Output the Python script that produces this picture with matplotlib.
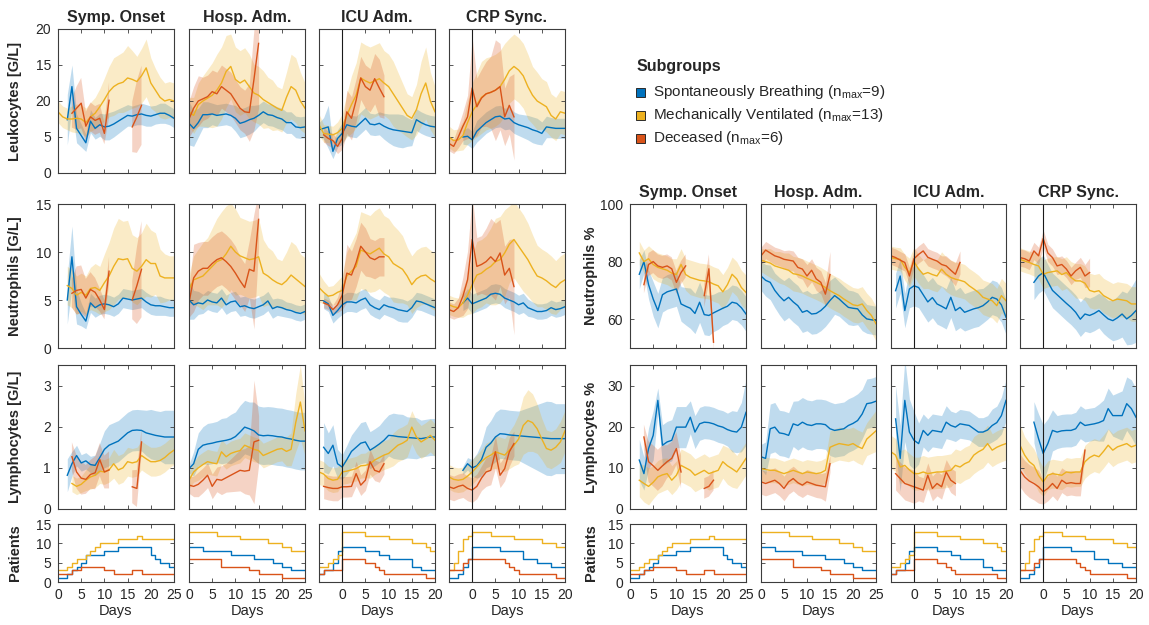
import numpy as np
import matplotlib
matplotlib.use('Agg')
import matplotlib.pyplot as plt
from matplotlib.patches import Rectangle

nan = float('nan')

ALIGNMENTS = ['Symp. Onset', 'Hosp. Adm.', 'ICU Adm.', 'CRP Sync.']
GROUPS = ['Spontaneously Breathing', 'Mechanically Ventilated', 'Deceased']
N_MAX = [9, 13, 6]
X_RANGES = [(0, 25), (0, 25), (-5, 20), (-5, 20)]
COLORS = ['#0072BD', '#EDB120', '#D95319']

# each series: (first day, mean values per day, half width of band per day)
# ---------------- Leukocytes [G/L] ----------------
leu_on_sb = (2, [7.4,12.0,6.2,5.2,4.2,7.2,6.2,6.7,6.4,6.5,6.8,7.2,7.6,8.0,7.9,8.1,8.2,8.0,7.9,8.1,8.3,8.3,8.0,7.6],
             [3.5,3.0,2.0,1.6,1.2,1.6,1.5,1.6,1.8,1.9,1.8,1.7,1.6,1.5,1.4,1.4,1.5,1.5,1.4,1.3,1.4,1.4,1.3,1.3])
leu_on_mv = (0, [8.5,7.8,7.5,7.5,7.6,7.5,7.0,7.8,8.3,9.2,10.2,11.3,12.0,12.4,12.6,13.2,13.0,12.7,13.5,14.6,12.5,11.5,10.5,10.0,10.2,10.0],
             [1.5,1.5,1.5,1.8,2.0,2.0,2.0,2.0,2.2,2.5,3.0,3.5,4.0,4.0,4.2,4.5,4.0,3.5,3.8,4.0,3.5,3.0,2.8,2.5,2.5,2.5])
leu_on_d = (3, [8.3,9.0,9.7,6.5,7.8,7.3,7.6,5.5,10.1,nan,nan,nan,nan,6.4,7.8,9.4],
            [2.0,3.0,3.5,2.0,2.0,2.0,2.0,1.5,2.5,nan,nan,nan,nan,3.5,5.0,5.5])
leu_ho_sb = (0, [6.9,6.2,7.0,8.1,8.1,8.2,8.0,8.1,8.2,8.0,7.6,6.9,7.1,7.4,7.6,8.0,8.5,8.1,8.0,7.7,7.5,7.0,7.0,6.4,6.3,6.4],
             [3.0,2.5,2.0,1.8,1.8,1.5,1.5,1.5,1.5,1.5,1.8,2.0,2.0,2.0,1.8,1.5,1.5,1.5,1.5,1.5,1.5,1.5,1.5,1.5,1.5,1.5])
leu_ho_mv = (0, [8.5,8.0,9.5,10.0,10.4,10.8,11.5,12.5,14.1,14.8,13.0,12.5,12.9,12.0,11.1,10.8,10.2,9.8,9.4,9.0,8.7,10.5,12.0,11.5,10.0,9.0],
             [2.0,2.5,3.0,3.5,4.0,4.5,5.0,5.0,5.0,4.5,4.5,4.5,4.5,4.5,4.0,4.0,4.0,3.5,3.5,3.0,3.0,3.5,4.5,4.5,4.0,3.5])
leu_ho_d = (0, [7.5,9.0,10.0,10.3,10.6,11.3,11.0,12.0,11.5,11.0,10.0,9.0,8.5,8.4,13.0,18.0],
            [2.5,3.0,3.5,3.0,3.0,3.0,3.0,3.0,3.0,3.0,3.0,3.0,3.0,4.0,7.0,9.0])
leu_ic_sb = (-5, [6.0,6.2,6.4,3.0,4.8,5.5,6.7,6.5,6.4,7.0,7.6,6.8,6.7,6.9,6.5,6.2,6.0,5.9,5.8,5.7,5.6,7.4,7.0,6.7,6.5,6.4],
             [1.0,1.5,3.0,1.0,1.2,1.5,1.5,1.5,1.5,1.5,1.5,1.5,1.5,1.6,1.8,2.0,2.2,2.3,2.3,2.0,1.8,1.5,1.5,1.5,1.5,1.5])
leu_ic_mv = (-5, [6.7,5.5,5.4,5.3,5.6,6.2,8.0,9.5,10.8,13.2,12.8,12.5,12.8,13.1,12.5,12.0,11.0,10.0,9.0,8.0,7.6,8.8,11.0,12.5,10.0,8.5],
             [1.5,1.2,1.2,1.2,1.5,2.0,3.0,4.0,4.5,5.0,5.0,5.0,5.0,5.0,4.5,4.5,4.5,4.0,3.5,3.0,3.0,3.5,4.5,5.0,4.0,3.5])
leu_ic_d = (-4, [5.3,4.8,4.5,3.7,4.8,8.5,7.6,10.1,13.2,12.0,11.5,13.1,11.8,10.6],
            [1.0,1.0,1.0,1.0,1.5,3.0,3.0,3.0,3.0,3.0,3.0,3.5,4.0,3.0])
leu_cr_sb = (-2, [5.0,5.1,4.6,5.8,6.4,7.0,7.4,7.8,7.9,7.5,7.6,7.0,6.7,6.5,6.3,6.0,5.8,5.5,6.4,6.3,6.2,6.2,6.2],
             [1.0,1.2,1.2,1.5,1.5,1.5,1.5,1.5,1.5,1.5,1.5,1.5,1.5,1.6,1.7,1.8,1.8,1.6,1.5,1.4,1.4,1.4,1.4])
leu_cr_mv = (-5, [5.0,4.5,4.6,5.2,7.0,8.5,9.5,10.5,11.0,11.2,11.5,12.0,13.0,14.2,14.8,14.3,13.5,12.0,10.8,10.0,9.6,9.2,8.0,7.5,8.5,8.3],
             [1.5,1.5,1.5,2.0,3.0,4.0,4.5,5.0,5.0,5.0,5.0,5.0,5.0,4.5,4.5,4.5,4.5,4.5,4.0,4.0,3.5,3.5,3.0,3.0,3.0,3.0])
leu_cr_d = (-5, [4.1,3.7,5.0,6.5,7.8,11.8,9.2,10.4,11.0,11.2,11.5,12.0,7.8,9.4,7.8],
            [1.0,1.0,1.5,2.0,3.0,7.0,4.0,4.0,4.5,5.0,7.0,6.0,4.0,4.0,6.0])

# ---------------- Neutrophils [G/L] ----------------
neu_on_sb = (2, [5.0,9.5,4.3,3.5,2.8,4.7,4.2,4.5,4.6,4.5,4.3,4.6,5.2,5.1,5.0,5.1,5.2,4.8,4.5,4.4,4.4,4.3,4.2,4.2],
             [2.5,3.2,1.8,1.2,0.8,1.0,1.0,1.0,1.0,1.0,1.0,1.0,1.0,1.0,1.0,1.0,1.0,1.0,1.0,1.0,1.0,0.9,0.9,0.9])
neu_on_mv = (2, [6.5,6.2,5.5,5.8,5.5,6.2,6.3,6.0,6.8,7.5,8.5,9.3,9.2,9.3,8.3,8.0,8.5,9.2,8.8,8.8,7.5,7.3,7.3,7.3],
             [2.0,2.0,2.0,2.0,2.0,2.2,2.5,2.5,3.0,3.5,4.0,4.2,4.0,4.0,3.5,3.5,3.5,3.8,3.5,3.2,2.8,2.5,2.3,2.3])
neu_on_d = (3, [5.7,6.0,6.1,5.2,6.1,5.8,5.0,4.0,8.0,nan,nan,nan,nan,5.0,6.5,8.2],
            [1.5,2.5,2.5,2.0,1.8,1.5,1.2,1.0,1.5,nan,nan,nan,nan,2.0,4.0,5.0])
neu_ho_sb = (0, [5.0,4.5,4.7,4.6,5.0,4.8,4.7,5.2,4.5,4.8,4.9,4.3,4.4,4.2,4.1,4.3,4.5,4.9,4.1,4.3,4.2,4.0,3.9,3.7,3.6,3.8],
             [2.0,1.5,1.2,1.0,1.0,1.0,1.0,1.0,1.0,1.0,1.0,1.0,1.0,1.0,1.0,1.0,1.0,1.0,1.0,0.9,0.9,0.8,0.8,0.8,0.8,0.8])
neu_ho_mv = (0, [6.1,7.1,7.3,7.5,8.0,8.5,9.0,9.2,9.8,10.6,10.0,9.6,9.4,9.2,9.3,9.5,7.8,7.5,7.1,6.8,6.6,7.0,7.6,7.2,6.8,6.4],
             [1.5,2.5,3.0,3.5,3.5,4.0,4.5,5.0,5.0,4.5,4.5,4.0,4.0,4.0,4.0,4.0,3.5,3.0,3.0,2.5,2.5,3.0,3.5,3.5,3.0,3.0])
neu_ho_d = (0, [4.7,7.3,8.0,8.3,8.3,8.8,9.2,9.4,9.0,8.5,7.8,7.0,6.3,8.2,8.0,13.4],
            [1.5,3.5,3.0,2.8,2.8,2.8,2.8,2.8,2.8,2.8,2.8,2.5,2.5,3.0,6.0,3.0])
neu_ic_sb = (-4, [4.9,4.6,3.4,3.9,4.5,4.8,4.8,4.7,5.0,5.2,4.5,4.2,4.0,4.5,4.3,4.2,4.0,3.9,3.8,4.2,4.9,4.8,4.6,4.4,4.2],
             [0.8,0.8,0.8,0.8,1.0,1.0,1.0,1.0,1.0,1.0,1.0,1.0,1.0,1.0,1.0,1.1,1.2,1.2,1.1,1.0,0.9,0.9,0.9,0.9,0.9])
neu_ic_mv = (-5, [6.3,5.8,5.4,5.5,5.8,6.0,7.5,8.0,8.5,10.2,10.0,9.8,10.1,10.4,9.8,9.5,8.8,8.5,8.2,7.5,6.6,7.2,7.5,7.6,7.2,6.9],
             [1.5,1.2,1.0,1.0,1.2,1.5,2.5,3.0,3.5,4.0,4.0,4.0,4.2,4.2,4.0,4.0,4.0,3.8,3.5,3.0,3.0,3.0,3.0,3.0,3.0,3.0])
neu_ic_d = (-4, [4.7,4.5,4.0,4.5,5.5,7.8,7.6,8.9,10.6,10.0,9.4,9.2,9.5,9.5],
            [0.5,0.5,0.5,0.8,1.5,3.0,2.5,2.5,2.5,2.5,2.0,2.0,2.0,2.0])
neu_cr_sb = (-2, [4.7,5.2,4.6,4.8,5.0,5.2,5.6,5.7,5.6,5.2,5.0,4.8,4.5,4.7,4.2,4.0,3.8,3.8,3.9,4.2,4.0,4.1,4.3],
             [0.8,1.0,1.0,1.0,1.0,1.0,1.0,1.0,1.0,1.0,1.0,1.0,1.0,1.0,0.9,0.8,0.8,0.8,0.8,0.8,0.8,0.8,0.8])
neu_cr_mv = (-5, [4.5,4.3,4.2,4.7,5.5,6.6,7.6,7.8,8.2,8.5,9.0,9.2,9.9,10.8,11.3,10.6,9.9,9.2,8.3,7.5,7.3,7.0,6.6,6.3,6.8,7.1],
             [1.0,1.0,1.0,1.5,2.0,3.0,3.5,3.5,3.5,4.0,4.5,4.5,4.5,4.0,4.0,4.0,4.0,3.8,3.5,3.2,3.0,3.0,3.0,2.8,2.8,2.8])
neu_cr_d = (-5, [4.0,3.8,4.2,5.4,7.1,11.3,8.5,8.7,9.0,9.5,9.0,9.9,7.6,8.3,6.4],
            [0.8,0.8,1.0,2.0,3.0,4.5,3.0,3.0,3.5,4.0,4.0,3.5,3.0,3.0,5.0])

# ---------------- Lymphocytes [G/L] ----------------
lym_on_sb = (2, [0.82,1.1,1.3,1.12,1.17,1.08,1.06,1.25,1.45,1.55,1.6,1.65,1.75,1.85,1.91,1.92,1.91,1.85,1.82,1.79,1.77,1.75,1.75,1.75],
             [0.4,0.3,0.25,0.2,0.2,0.2,0.25,0.35,0.45,0.5,0.5,0.5,0.5,0.5,0.5,0.5,0.5,0.55,0.6,0.6,0.6,0.65,0.65,0.65])
lym_on_mv = (3, [0.62,0.55,0.6,0.7,0.78,0.82,0.92,0.9,0.95,1.1,0.95,1.0,1.15,1.12,1.15,1.3,1.22,1.15,1.15,1.18,1.25,1.35,1.43],
             [0.2,0.2,0.2,0.25,0.3,0.3,0.3,0.3,0.3,0.35,0.35,0.35,0.35,0.35,0.35,0.35,0.35,0.35,0.35,0.35,0.35,0.35,0.35])
lym_on_d = (3, [1.27,0.9,0.75,0.72,0.84,0.88,1.2,0.9,0.95,nan,nan,nan,nan,0.54,0.5,1.63],
            [0.35,0.4,0.4,0.35,0.35,0.4,0.4,0.4,0.45,nan,nan,nan,nan,0.4,0.45,0.3])
lym_ho_sb = (0, [0.98,1.1,1.45,1.55,1.58,1.6,1.63,1.65,1.67,1.7,1.76,1.87,1.99,1.95,1.9,1.8,1.78,1.79,1.78,1.76,1.75,1.72,1.7,1.67,1.65,1.65],
             [0.1,0.3,0.4,0.45,0.5,0.5,0.5,0.55,0.55,0.6,0.6,0.65,0.65,0.65,0.7,0.7,0.7,0.7,0.7,0.7,0.7,0.7,0.7,0.7,0.7,0.7])
lym_ho_mv = (0, [0.7,0.9,1.0,1.08,1.15,1.12,1.1,1.39,1.27,1.35,1.39,1.42,1.55,1.5,1.45,1.42,1.3,1.35,1.4,1.45,1.47,1.4,1.45,2.1,2.6,1.9],
             [0.2,0.25,0.3,0.3,0.3,0.3,0.3,0.3,0.3,0.3,0.3,0.3,0.3,0.3,0.3,0.3,0.3,0.3,0.3,0.3,0.3,0.35,0.4,0.7,0.9,0.6])
lym_ho_d = (0, [0.58,0.55,0.6,0.7,0.82,0.55,0.72,0.7,0.76,0.82,0.88,0.94,0.92,0.94,1.63,1.67],
            [0.2,0.25,0.3,0.3,0.3,0.3,0.3,0.35,0.35,0.4,0.45,0.5,0.55,0.6,1.5,0.6])
lym_ic_sb = (-4, [1.5,1.35,1.55,1.1,1.02,1.2,1.4,1.5,1.6,1.63,1.43,1.5,1.58,1.67,1.79,1.78,1.76,1.75,1.74,1.73,1.72,1.71,1.73,1.75,1.75],
             [0.6,0.5,0.5,0.35,0.3,0.35,0.4,0.45,0.5,0.5,0.45,0.45,0.45,0.5,0.5,0.55,0.55,0.55,0.5,0.5,0.5,0.45,0.45,0.45,0.45])
lym_ic_mv = (-5, [0.9,0.85,0.74,0.7,0.72,0.9,0.92,0.95,0.98,1.05,1.06,1.1,1.19,1.25,1.31,1.35,1.45,1.55,1.6,1.67,1.99,1.75,1.63,1.7,1.79,1.67],
             [0.3,0.3,0.3,0.3,0.3,0.3,0.3,0.3,0.3,0.3,0.3,0.35,0.35,0.35,0.35,0.35,0.4,0.4,0.4,0.4,0.4,0.4,0.4,0.4,0.4,0.4])
lym_ic_d = (-4, [0.55,0.52,0.5,0.5,0.54,0.54,0.55,0.86,0.58,0.7,1.15,0.94,0.9,1.1],
            [0.3,0.3,0.3,0.3,0.25,0.25,0.25,0.3,0.25,0.25,0.3,0.25,0.25,0.25])
lym_cr_sb = (-2, [0.94,1.1,1.0,1.05,1.2,1.5,1.6,1.75,1.83,1.82,1.8,1.79,1.78,1.77,1.76,1.75,1.74,1.73,1.72,1.71,1.71,1.71,1.71],
             [0.1,0.15,0.2,0.3,0.4,0.5,0.55,0.6,0.6,0.6,0.6,0.6,0.6,0.65,0.7,0.75,0.8,0.85,0.9,0.9,0.85,0.85,0.85])
lym_cr_mv = (-5, [0.78,0.72,0.7,0.72,0.8,0.9,1.02,1.15,1.25,1.31,1.39,1.35,1.31,1.43,1.55,1.7,2.03,2.15,2.1,1.95,1.7,1.47,1.43,1.5,1.63,1.9],
             [0.3,0.3,0.3,0.3,0.3,0.3,0.3,0.3,0.35,0.35,0.4,0.4,0.4,0.45,0.5,0.6,0.7,0.75,0.7,0.6,0.5,0.45,0.45,0.45,0.5,0.5])
lym_cr_d = (-5, [0.54,0.5,0.55,0.58,0.5,0.46,0.55,0.75,0.9,0.94,1.39,0.82,0.98,1.39,1.59],
            [0.3,0.3,0.3,0.3,0.3,0.3,0.3,0.3,0.35,0.35,0.4,0.3,0.3,0.35,0.3])

# ---------------- Neutrophils % ----------------
nep_on_sb = (2, [75.6,80.0,72.0,67.0,63.0,68.5,69.5,70.0,70.5,65.3,64.5,63.8,62.0,65.9,61.6,61.3,62.2,63.0,63.8,64.5,65.9,65.5,64.0,61.8],
             [5,4,5,6,6,6,6,6,6,6,6.5,7,7,7,7,7,6.5,6.5,6,6,6,6,6,6])
nep_on_mv = (2, [83,80,81,79,78,77.5,77,76,75.5,79,75.5,74.5,74,73.5,73.3,73,72.2,71.6,69.5,72,75.6,74,71,69.3],
             [4,4,4.5,5,5,5,5,5,5.5,5.5,5.5,6,6,6,6,6,6,6,6,6,6,6,6,6])
nep_on_d = (3, [72,79,80,78.5,78,78.5,77.5,72.8,76.2,78.5,nan,nan,nan,68.2,77.5,52],
            [3,4,4,4,4,4,4,4,4,4,nan,nan,nan,4,5,3])
nep_ho_sb = (0, [75,73.5,72.8,70,68,66.4,67.6,66,64.7,62.4,63,61.8,62,63,64.5,66.5,68.2,67,65.5,64.1,63.8,63.6,61.5,60.1,59.8,59.5],
             [5,5.5,6,6,6.5,7,7,7,7,7,7,7,7,7,7,7,6.5,6,6,6,6,5.5,5.5,5,5,5])
nep_ho_mv = (0, [80.5,80,79.5,78.5,78,77.5,77,75.8,75.5,75,74.2,73.5,72.8,72,71,69.9,69,68.2,67,66,65,64.7,65.3,63,61.3,58.4],
             [4,4.5,5,5,5.5,5.5,6,6,6,6,6,6,6,6,6,6,6,6,6,6,6,6,6,6,6,6])
nep_ho_d = (0, [82,84,83,82,81.5,80.8,80.5,80.2,78,77.4,75,77,74,72.8,68.7,75.5],
            [3,3,3,3,3,3,3.5,3.5,3.5,3.5,4,4,4,4,4,8])
nep_ic_sb = (-4, [69.9,75,63,70.5,71.6,71,68.5,66,67.5,65.3,64.5,63.6,67.6,63,64.1,62.4,63,63.6,64,64.7,66,67.6,67,65,60.7],
             [6,6,6,6.5,7,7,7,7,7,7,7,7,7,7,7,6.5,6.5,6.5,6.5,6,6,6,6,6,6])
nep_ic_mv = (-5, [81.4,81,80.8,78,76.2,80,77.4,75.6,76.2,75.5,75,77.4,75.6,74.5,73.9,73.5,73,71.6,70.5,69.3,67.6,67,66.4,64.7,68.2,66.4],
             [4,4,4,4.5,5,5,5,5,5.5,5.5,5.5,6,6,6,6,6,6,6,6,6,6,6,6,6,6,6])
nep_ic_d = (-5, [82,81.4,80.5,79.7,75,81,82.5,83.7,81.5,80.8,80.2,79,78.5,77,75.6,79.7],
            [3,3,3,3,3,3,3,3,3,3,3,3,3.5,3.5,4,4])
nep_cr_sb = (-2, [72.8,75,76.2,73,70,68.5,67,65.5,64.1,62.4,60,61.8,61.3,62,63,61.5,60.1,59.5,60.5,61.8,60.1,61.3,63],
             [6,6,6,6,6,6,6,6,6,6,6,6,6,6,6,6.5,6.5,7,7.5,8,9,10,11])
nep_cr_mv = (-5, [80.8,80.2,79.7,79,78.5,75.6,76.2,76.5,76.8,75.5,76.2,74.5,73.3,73.3,72.5,70,69.5,69.9,68.2,67.3,66.4,67,66.7,66.4,65.3,65.3],
             [4,4,4,4,4.5,5,5,5,5,5.5,5.5,5.5,6,6,6,6,6,6,6,6,6,6,6,6,6,6])
nep_cr_d = (-5, [81.4,81,80.2,83.7,82,88,83,81.4,78.5,79,77.4,75,76.8,78,75,76.2],
            [3,3,3,3,3,3,3,3,3,3,3,3,3,3.5,4,5])

# ---------------- Lymphocytes % ----------------
lyp_on_sb = (2, [11.9,8.6,14.7,17.9,26.4,15.5,16.3,16.7,19.9,19.9,19.9,22.3,18.7,20.7,21.1,21,20.7,20.2,19.9,19.3,18.9,18.7,19.9,23.5],
             [5,4,5,6,3,5,5,5,5,5,5,4,4,4,4,4,4,4,4,4,5,5,6,8])
lyp_on_mv = (2, [7.0,6.2,5.5,6.5,7.8,8.3,8.6,7.0,8.2,10.6,10.0,9.4,8.2,8.8,9.4,8.6,9.0,9.4,11.5,10.5,9.8,9.0,10.6,12.3],
             [4,4.5,4.5,4,4,4,3.8,3.5,3.5,4,4,4,4,4,4,4,4,4,4,4.5,4.5,4,4,4])
lyp_on_d = (3, [17.5,11.5,10.5,9.4,10.5,11.5,12.3,14.7,9.0,nan,nan,nan,nan,5.0,5.5,7.0],
            [3,5,5,5,5,4,4,4,4,nan,nan,nan,nan,2.5,2.5,2.5])
lyp_ho_sb = (0, [12.7,12.3,19.5,19.9,18.5,18.3,17.9,20.7,20.3,21.1,20.5,20.3,20.7,20.7,20.5,19.5,19.1,19.3,19.5,20.3,20.8,21.5,23.1,25.6,25.8,26.2],
             [3,4,6,6,5.5,5.5,5.5,5.5,6,6,6,6,6,6,6,6.5,6.5,6.5,6.5,6.5,6.5,6.5,6,6,6,6])
lyp_ho_mv = (0, [9.8,9.6,9.4,9.4,9.0,8.6,9.0,9.4,9.0,8.6,9.0,8.8,8.6,8.8,9.4,15.0,15.5,15.9,15.7,15.5,15.9,15.2,14.7,17.0,18.0,19.0],
             [3,3,3,3,3,3,3,3,3,3,3,3,3,3,3,4,4,4,4,4,4,4,4,4,4.5,5])
lyp_ho_d = (0, [6.6,6.2,6.6,7.0,6.2,5.0,6.6,7.4,6.4,5.8,6.6,6.2,5.8,5.6,5.4,11.0],
            [3,3,3,3,3,3,3,3,3,3,3,3,3,3,3.5,2])
lyp_ic_sb = (-4, [21.9,12.3,26.4,18.7,16.7,15.9,19.1,17.9,19.1,18.9,18.7,21.1,20.3,19.9,20.7,20.5,20.3,19.5,18.7,18.7,19.2,20.3,21.0,22.7,26.4],
             [8,8,10,8,7,5,4,4,4,4,4,4,3.5,3.5,3.5,3.5,3.5,3.5,3.5,3.5,3.5,4,4,4.5,5])
lyp_ic_mv = (-5, [13.9,13.1,10.2,10.6,9.5,8.6,8.6,9.0,8.6,8.8,9.0,9.0,9.2,9.4,10.6,10.2,11.0,11.5,13.1,13.9,14.5,15.9,14.3,15.0,15.5,15.9],
             [4,4,4,4,4,4,4,4,4,4,4,4,4,4,4,4,4,4,4.5,4.5,4.5,4.5,4,4,4,4])
lyp_ic_d = (-4, [8.6,7.4,6.2,5.8,5.4,5.0,4.6,8.2,5.0,6.2,5.4,9.0,7.0,6.2],
            [4,4,4,4,4,3,3,3,3,3,3,3,3,3])
lyp_cr_sb = (-2, [21.1,17.1,13.5,15.9,19.1,18.7,19.0,19.1,19.1,19.5,21.1,20.3,20.5,20.7,21.0,21.5,24.4,22.7,22.7,22.7,25.6,24.4,22.3],
             [5,6,7,6,5,4,4,4,4,4,4,4,4,4,4.5,5,5,5,5.5,6,6.5,7,7])
lyp_cr_mv = (-5, [15.5,13.1,11.5,10.6,8.2,6.6,8.2,8.6,8.4,8.2,9.0,8.8,9.0,9.0,11.5,12.5,13.1,12.7,14.0,15.5,14.3,15.1,15.5,15.9,15.1,15.5],
             [5,4.5,4.5,4,4,3.5,3.5,3.5,3.5,3.5,3.5,3.5,3.5,3.5,4,4,4,4,4,4,4,4,4,4,4,4])
lyp_cr_d = (-5, [9.4,7.8,6.8,6.2,5.4,4.2,5.0,6.2,5.0,7.0,6.2,6.4,6.2,6.2,14.3],
            [4,4,4,4,4,3,3,3,3,3,3,3,3,3,1])

# ---------------- Patients per day ----------------
pat_on_sb = (0, [1,1,2,3,4,5,7,7,7,7,8,8,8,9,9,9,9,9,9,9,7,6,5,5,4,4])
pat_on_mv = (0, [3,3,4,5,6,6,7,8,9,10,10,10,10,11,11,11,11,12,11,11,11,11,11,11,11,11])
pat_on_d = (0, [2,2,2,3,3,4,4,4,4,4,3,3,2,2,2,2,3,3,2,2,2,2,2,2,2,2])
pat_ho_sb = (0, [9,9,9,8,8,8,8,8,8,7,7,7,7,7,6,6,6,6,5,5,4,4,3,3,3,3])
pat_ho_mv = (0, [13,13,13,13,13,13,12,12,12,12,12,11,11,11,11,11,11,10,10,10,9,9,8,8,8,8])
pat_ho_d = (0, [6,6,6,6,6,6,6,4,4,4,4,4,4,3,3,2,2,2,2,2,1,1,1,1,1,1])
pat_ic_sb = (-5, [2,3,3,5,8,9,9,9,9,9,8,8,8,7,7,6,6,6,6,6,4,4,3,3,3,3])
pat_ic_mv = (-5, [4,4,5,6,7,13,13,13,13,13,12,12,12,12,12,11,11,11,11,11,10,10,10,9,8,8])
pat_ic_d = (-5, [2,3,3,3,3,6,6,6,6,6,5,5,4,3,2,2,2,2,2,2,2,2,2,1,1,1])
pat_cr_sb = (-5, [1,1,2,4,6,9,9,9,9,9,9,8,8,8,8,8,6,6,6,5,5,5,4,4,4,4])
pat_cr_mv = (-5, [3,5,8,11,12,13,13,13,13,12,12,12,12,12,11,11,11,11,11,11,10,10,10,9,9,9])
pat_cr_d = (-5, [3,3,3,5,6,6,6,6,6,6,6,6,5,4,3,2,2,2,2,2,2,2,2,1,1,1])

LEU = [[leu_on_sb, leu_on_mv, leu_on_d], [leu_ho_sb, leu_ho_mv, leu_ho_d],
       [leu_ic_sb, leu_ic_mv, leu_ic_d], [leu_cr_sb, leu_cr_mv, leu_cr_d]]
NEU = [[neu_on_sb, neu_on_mv, neu_on_d], [neu_ho_sb, neu_ho_mv, neu_ho_d],
       [neu_ic_sb, neu_ic_mv, neu_ic_d], [neu_cr_sb, neu_cr_mv, neu_cr_d]]
LYM = [[lym_on_sb, lym_on_mv, lym_on_d], [lym_ho_sb, lym_ho_mv, lym_ho_d],
       [lym_ic_sb, lym_ic_mv, lym_ic_d], [lym_cr_sb, lym_cr_mv, lym_cr_d]]
NEP = [[nep_on_sb, nep_on_mv, nep_on_d], [nep_ho_sb, nep_ho_mv, nep_ho_d],
       [nep_ic_sb, nep_ic_mv, nep_ic_d], [nep_cr_sb, nep_cr_mv, nep_cr_d]]
LYP = [[lyp_on_sb, lyp_on_mv, lyp_on_d], [lyp_ho_sb, lyp_ho_mv, lyp_ho_d],
       [lyp_ic_sb, lyp_ic_mv, lyp_ic_d], [lyp_cr_sb, lyp_cr_mv, lyp_cr_d]]
PAT = [[pat_on_sb, pat_on_mv, pat_on_d], [pat_ho_sb, pat_ho_mv, pat_ho_d],
       [pat_ic_sb, pat_ic_mv, pat_ic_d], [pat_cr_sb, pat_cr_mv, pat_cr_d]]

LEFT_ROWS = [('Leukocytes [G/L]', LEU, (0, 20), [0, 5, 10, 15, 20], ['0', '5', '20', '15', '20']),
             ('Neutrophils [G/L]', NEU, (0, 15), [0, 5, 10, 15], None),
             ('Lymphocytes [G/L]', LYM, (0, 3.5), [0, 1, 2, 3], None),
             ('Patients', PAT, (0, 15), [0, 5, 10, 15], None)]
RIGHT_ROWS = [('Neutrophils %', NEP, (50, 100), [60, 80, 100], None),
              ('Lymphocytes %', LYP, (0, 35), [0, 10, 20, 30], None),
              ('Patients', PAT, (0, 15), [0, 5, 10, 15], None)]

# ---------------- layout (pixels) ----------------
W, H = 1149, 625
LX = [(58, 174), (189, 305), (319, 435), (449, 565)]
RX = [(630, 746), (761, 876), (891, 1006), (1020, 1136)]
LY = [(29, 173), (204, 348), (365, 509), (524, 582)]
RY = [(204, 348), (365, 509), (524, 582)]

plt.rcParams['font.family'] = ['Liberation Sans', 'DejaVu Sans']
EDGE = '#3c3c3c'
TXT = '#262626'

fig = plt.figure(figsize=(W / 100, H / 100), dpi=100)
fig.patch.set_facecolor('white')


def add_ax(xr, yr):
    x0, x1 = xr
    y0, y1 = yr
    return fig.add_axes([x0 / W, 1 - y1 / H, (x1 - x0) / W, (y1 - y0) / H])


def draw_block(cols, rows_px, rows, label_x):
    nrows = len(rows)
    for r, (ylab, data, ylim, yt, ytl) in enumerate(rows):
        for c in range(4):
            ax = add_ax(cols[c], rows_px[r])
            series = data[c]
            if ylab == 'Patients':
                for (start, counts), col in zip(series, COLORS):
                    d = np.arange(start, start + len(counts))
                    ax.step(d, counts, where='post', color=col, lw=1.0)
            else:
                for (start, mean, hw), col in zip(series, COLORS):
                    d = np.arange(start, start + len(mean))
                    m = np.array(mean, dtype=float)
                    h = np.array(hw, dtype=float)
                    ax.fill_between(d, m - h, m + h, color=col, alpha=0.25, lw=0)
                for (start, mean, hw), col in zip(series, COLORS):
                    d = np.arange(start, start + len(mean))
                    ax.plot(d, mean, color=col, lw=1.0)
            if c >= 2:
                ax.axvline(0, color='#1a1a1a', lw=0.8)
            ax.set_xlim(*X_RANGES[c])
            ax.set_ylim(*ylim)
            ax.set_xticks([0, 5, 10, 15, 20, 25] if c < 2 else [0, 5, 10, 15, 20])
            ax.set_yticks(yt)
            if ytl is not None:
                ax.set_yticklabels(ytl)
            ax.tick_params(direction='in', length=3, width=0.6, top=True, right=True,
                           labelsize=10, color=EDGE, labelcolor=TXT, pad=4)
            ax.tick_params(axis='y', pad=5)
            for s in ax.spines.values():
                s.set_color(EDGE)
                s.set_linewidth(0.8)
            if c > 0:
                ax.tick_params(labelleft=False)
            else:
                ax.set_ylabel(ylab, fontsize=10.5, fontweight='bold', color=TXT)
                ax.yaxis.set_label_coords(label_x, 0.5)
            if r < nrows - 1:
                ax.tick_params(labelbottom=False)
            else:
                ax.set_xlabel('Days', fontsize=10.5, color=TXT, labelpad=2)
            if r == 0:
                ax.set_title(ALIGNMENTS[c], fontsize=11.5, fontweight='bold', color=TXT, pad=5)


draw_block(LX, LY, LEFT_ROWS, -(58 - 22) / 116)
draw_block(RX, RY, RIGHT_ROWS, -(630 - 598) / 116)

# ---------------- legend ----------------
fig.text(637 / W, 1 - 67 / H, 'Subgroups', fontsize=11.5, fontweight='bold', color=TXT,
         ha='left', va='center')
for i, (g, n, col) in enumerate(zip(GROUPS, N_MAX, COLORS)):
    yc = 92 + 23 * i
    fig.patches.append(Rectangle((636 / W, 1 - (yc + 4.5) / H), 9 / W, 9 / H,
                                 transform=fig.transFigure, facecolor=col,
                                 edgecolor='#2a2a2a', lw=0.7))
    fig.text(653 / W, 1 - yc / H, g + r' (n$_{\mathregular{max}}$=' + str(n) + ')',
             fontsize=11, color=TXT, ha='left', va='center')

fig.savefig('out.png', dpi=100)
